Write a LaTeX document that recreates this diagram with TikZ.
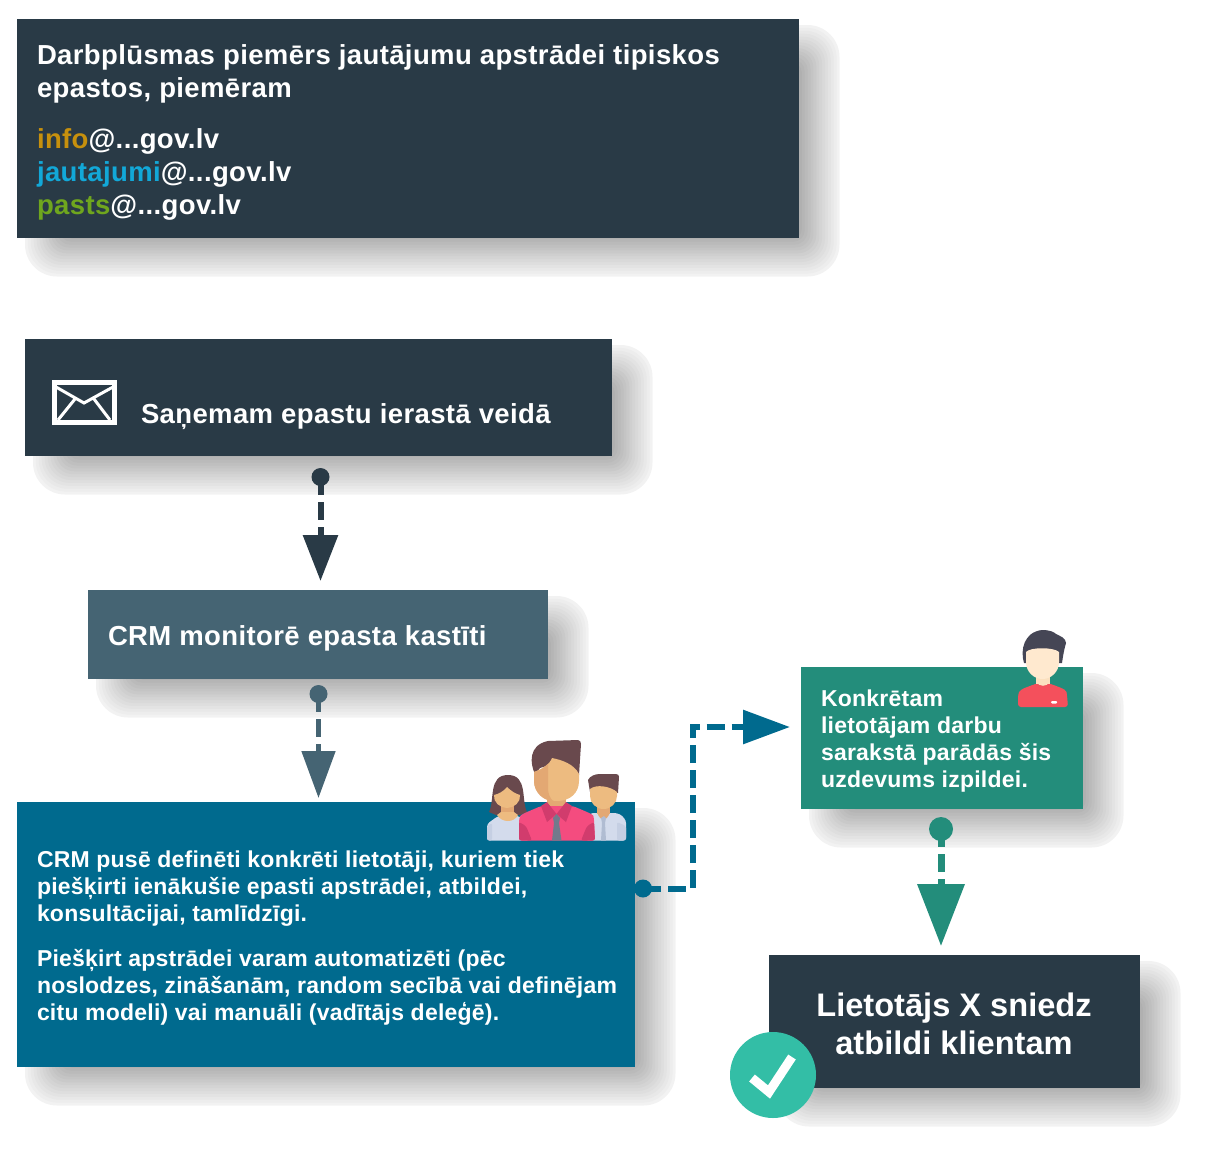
\documentclass[tikz,border=0pt]{standalone}
\usepackage{fontspec}
\setmainfont{Liberation Sans}[BoldFont={Liberation Sans Bold}]
\newfontfamily\fbig{Liberation Sans Bold}[LetterSpace=1.4]
\newfontfamily\fmid{Liberation Sans Bold}[LetterSpace=1.0]
\usetikzlibrary{arrows.meta}
\definecolor{cdark}{HTML}{293A46}
\definecolor{ccrm}{HTML}{456473}
\definecolor{cblue}{HTML}{006A8E}
\definecolor{cgreen}{HTML}{238D7B}
\definecolor{cteal}{HTML}{33BEA6}
\definecolor{cinfo}{HTML}{C6900D}
\definecolor{cjaut}{HTML}{12A8D8}
\definecolor{cpast}{HTML}{6FA61E}
\definecolor{hairb}{HTML}{69494D}
\definecolor{skin}{HTML}{EDBB80}
\definecolor{skind}{HTML}{E3A873}
\definecolor{shirtl}{HTML}{D3DBEC}
\definecolor{shirtd}{HTML}{C5CFE3}
\definecolor{tiel}{HTML}{B0BCD2}
\definecolor{pink}{HTML}{F44C7F}
\definecolor{pinkd}{HTML}{D13C6D}
\definecolor{tiec}{HTML}{727A8C}
\definecolor{hairp}{HTML}{454655}
\definecolor{facep}{HTML}{FFE9CF}
\definecolor{redp}{HTML}{F4505C}
\newcommand{\softshadow}[4]{%
  \foreach \i/\k in {0/5,1/7,2/9,3/11,4/13,5/15,6/17,7/19,8/21,9/23,10/25,11/27,12/29,13/31}{%
    \fill[black!\k!white,rounded corners={32pt-\i*1.7pt}]
      (#1+8+\i*2.9,#2+6+\i*2.9) rectangle (#3+40.5-\i*2.9,#4+38.5-\i*2.9);
  }%
}
\tikzset{
  x=1pt,y=-1pt,
  boxnode/.style={anchor=north west,inner sep=0pt,outer sep=0pt},
  txt/.style={anchor=base west,inner sep=0pt,outer sep=0pt,text=white,align=left},
  bigtxt/.style={txt,font=\fontsize{27.5}{33}\fbig},
  midtxt/.style={txt,font=\fontsize{23}{27}\fmid},
  hugetxt/.style={txt,anchor=base,font=\fontsize{32.6}{38}\bfseries},
  dotnode/.style={circle,inner sep=0pt,outer sep=0pt},
  dashline/.style={dash pattern=on 18pt off 7pt},
}
\begin{document}
\begin{tikzpicture}
\useasboundingbox (0,0) rectangle (1220,1154);
\softshadow{17}{19}{799}{238}
\softshadow{25}{339}{612}{456}
\softshadow{88}{590}{548}{679}
\softshadow{17}{802}{635}{1067}
\softshadow{801}{667}{1083}{809}
\softshadow{769}{955}{1140}{1088}
% boxes
\node[boxnode,fill=cdark,minimum width=782pt,minimum height=219pt] (b1) at (17,19) {};
\node[boxnode,fill=cdark,minimum width=587pt,minimum height=117pt] (b2) at (25,339) {};
\node[boxnode,fill=ccrm,minimum width=460pt,minimum height=89pt] (b3) at (88,590) {};
\node[boxnode,fill=cblue,minimum width=618pt,minimum height=265pt] (b4) at (17,802) {};
\node[boxnode,fill=cgreen,minimum width=282pt,minimum height=142pt] (b5) at (801,667) {};
\node[boxnode,fill=cdark,minimum width=371pt,minimum height=133pt] (b6) at (769,955) {};
% texts
\node[bigtxt] (t1a) at (37,64) {Darbplūsmas piemērs jautājumu apstrādei tipiskos};
\node[bigtxt] (t1b) at (37,97) {epastos, piemēram};
\node[bigtxt] (t1c) at (37,148) {\textcolor{cinfo}{info}@...gov.lv};
\node[bigtxt] (t1d) at (37,181) {\textcolor{cjaut}{jautajumi}@...gov.lv};
\node[bigtxt] (t1e) at (37,214) {\textcolor{cpast}{pasts}@...gov.lv};
\node[bigtxt] (t2) at (141,423) {Saņemam epastu ierastā veidā};
\node[bigtxt] (t3) at (108,645) {CRM monitorē epasta kastīti};
\node[midtxt] (t4a) at (37,867) {CRM pusē definēti konkrēti lietotāji, kuriem tiek};
\node[midtxt] (t4b) at (37,894) {piešķirti ienākušie epasti apstrādei, atbildei,};
\node[midtxt] (t4c) at (37,921) {konsultācijai, tamlīdzīgi.};
\node[midtxt] (t4d) at (37,966) {Piešķirt apstrādei varam automatizēti (pēc};
\node[midtxt] (t4e) at (37,993) {noslodzes, zināšanām, random secībā vai definējam};
\node[midtxt] (t4f) at (37,1020) {citu modeli) vai manuāli (vadītājs deleģē).};
\node[midtxt] (t5a) at (821,706) {Konkrētam};
\node[midtxt] (t5b) at (821,733) {lietotājam darbu};
\node[midtxt] (t5c) at (821,760) {sarakstā parādās šis};
\node[midtxt] (t5d) at (821,787) {uzdevums izpildei.};
\node[hugetxt] (t6a) at (954,1016) {Lietotājs X sniedz};
\node[hugetxt] (t6b) at (954,1054) {atbildi klientam};
% envelope
\draw[white,line width=5pt] (54.5,382.5) rectangle (114.5,422.5);
\draw[white,line width=3pt] (56,387) -- (84,403) -- (113,387) (58,420) -- (75,399) (110,420) -- (94,399);
% connectors
\node[dotnode,fill=cdark,minimum size=18pt] (d1) at (320.5,477) {};
\coordinate (e1) at (320.5,581);
\draw[cdark,line width=6pt,dashline,-{Triangle[length=46pt,width=34pt]}] (d1.center) -- (e1);
\node[dotnode,fill=ccrm,minimum size=18pt] (d2) at (318.5,694) {};
\coordinate (e2) at (318.5,798);
\draw[ccrm,line width=5pt,dashline,-{Triangle[length=47pt,width=33pt]}] (d2.center) -- (e2);
\node[dotnode,fill=cblue,minimum size=18pt] (d3) at (643,888.5) {};
\coordinate (e3) at (790,727);
\coordinate (c3a) at (692.5,888.5);
\coordinate (c3b) at (692.5,727);
\draw[cblue,line width=6pt,dashline,-{Triangle[length=47pt,width=33pt]}] (d3.center) -- (c3a) -- (c3b) -- (e3);
\node[dotnode,fill=cgreen,minimum size=24pt] (d4) at (941,829) {};
\coordinate (e4) at (941,946);
\draw[cgreen,line width=7pt,dashline,-{Triangle[length=62pt,width=46pt]}] (d4.center) -- (e4);
% group icon: left woman
\fill[hairb] (489,812) .. controls (495,800) and (488,775) .. (508,775) .. controls (528,775) and (521,800) .. (527,812) -- (520,815) -- (496,815) -- cycle;
\fill[shirtl,rounded corners=3pt] (487,840.5) -- (487,824) -- (498,816) -- (520,816) -- (530,840.5) -- cycle;
\fill[shirtd,rounded corners=2pt] (487,840.5) -- (487,826) -- (492,823) -- (492,840.5) -- cycle;
\fill[skind] (501,806) rectangle (514,816);
\fill[skin] (497,815) .. controls (502,823) and (514,823) .. (518,815) -- (514,812) -- (501,812) -- cycle;
\fill[skin] (494,795) .. controls (498,794) and (503,792) .. (507,787) .. controls (511,791) and (516,794) .. (520,795) .. controls (521,802) and (514,808) .. (507,808) .. controls (500,808) and (493,802) .. (494,795) -- cycle;
% right man
\fill[hairb] (590,792) -- (588,780) .. controls (590,776) and (595,774) .. (600,774) -- (616,774) .. controls (618,774) and (619,775) .. (619,777) -- (618,793) -- cycle;
\fill[shirtl,rounded corners=3pt] (585,840.5) -- (590,813) -- (617,813) .. controls (623,816) and (626,820) .. (626,826) -- (626,840.5) -- cycle;
\fill[shirtd,rounded corners=2pt] (626,840.5) -- (626,826) -- (617,822) -- (617,840.5) -- cycle;
\fill[skind] (597,804) rectangle (610,814);
\fill[skind] (597,812) .. controls (600,822) and (607,822) .. (610,812) -- cycle;
\fill[skin] (590,789) .. controls (596,784) and (610,786) .. (617,792) -- (617,796) .. controls (617,803) and (611,809) .. (603.5,809) .. controls (596,809) and (590,803) .. (590,796) -- cycle;
\fill[tiel] (601,818) -- (604,816) -- (606,818) -- (605,823) -- (606,840.5) -- (601,840.5) -- (602,823) -- cycle;
% central man
\fill[hairb] (535,774) .. controls (530,764) and (528,745) .. (548,741) -- (578,740) .. controls (580,740) and (581,742) .. (581,744) -- (579,775) -- (560,762) -- (540,768) -- cycle;
\fill[skind] (547,795) rectangle (566,812);
\fill[pink,rounded corners=3pt] (519,840.5) -- (519,819) .. controls (521,814) and (532,810) .. (541,806) -- (573,806) .. controls (582,810) and (593,814) .. (594,819) -- (595,840.5) -- cycle;
\fill[pinkd,rounded corners=2pt] (519,840.5) -- (519,822) -- (526,826) -- (532,840.5) -- cycle;
\fill[pinkd,rounded corners=2pt] (595,840.5) -- (594,822) -- (587,826) -- (581,840.5) -- cycle;
\fill[pinkd] (541,806) -- (547,802) -- (556.5,814) -- (566,802) -- (572,806) -- (566,822) -- (556.5,814) -- (547,822) -- cycle;
\fill[tiec] (553,818) -- (556.5,814) -- (560,818) -- (559,823) -- (561.5,840.5) -- (552,840.5) -- (554,823) -- cycle;
\fill[skin] (534,772) .. controls (542,769) and (550,764) .. (552,758) .. controls (562,760) and (574,764) .. (579,774) -- (579,781) .. controls (579,793) and (570,801) .. (557,801) .. controls (545,801) and (534,793) .. (534,781) -- cycle;
\fill[skind] (534,772) .. controls (539,771) and (544,768) .. (548,764) -- (548,788) .. controls (548,794) and (550,798) .. (553,801) .. controls (544,801) and (534,793) .. (534,781) -- cycle;
% person icon
\fill[hairp] (1024,663) .. controls (1020,650) and (1024,632) .. (1042,630) .. controls (1050,630) and (1054,632) .. (1056,634) .. controls (1060,636) and (1066,638) .. (1066,643) .. controls (1064,650) and (1063,656) .. (1062,663) -- cycle;
\fill[redp,rounded corners=3pt] (1018,707) -- (1018,695) .. controls (1020,689) and (1030,686) .. (1038,683) -- (1048,683) .. controls (1056,686) and (1066,689) .. (1067,695) -- (1068,707) -- cycle;
\fill[white,rounded corners=1pt] (1051,701) rectangle (1057,703.5);
\fill[facep!80!skin] (1036,675) rectangle (1050,684);
\fill[facep!80!skin] (1036,682) .. controls (1040,687) and (1046,687) .. (1050,682) -- cycle;
\fill[facep] (1026,652) .. controls (1030,647) and (1054,647) .. (1059,652) -- (1059,662) .. controls (1059,672) and (1051,679) .. (1042.5,679) .. controls (1034,679) and (1026,672) .. (1026,662) -- cycle;
% check badge
\node[dotnode,fill=cteal,minimum size=86pt] (badge) at (773,1075) {};
\draw[white,line width=9pt] (752,1078) -- (769,1092) -- (792,1057);
\end{tikzpicture}
\end{document}
